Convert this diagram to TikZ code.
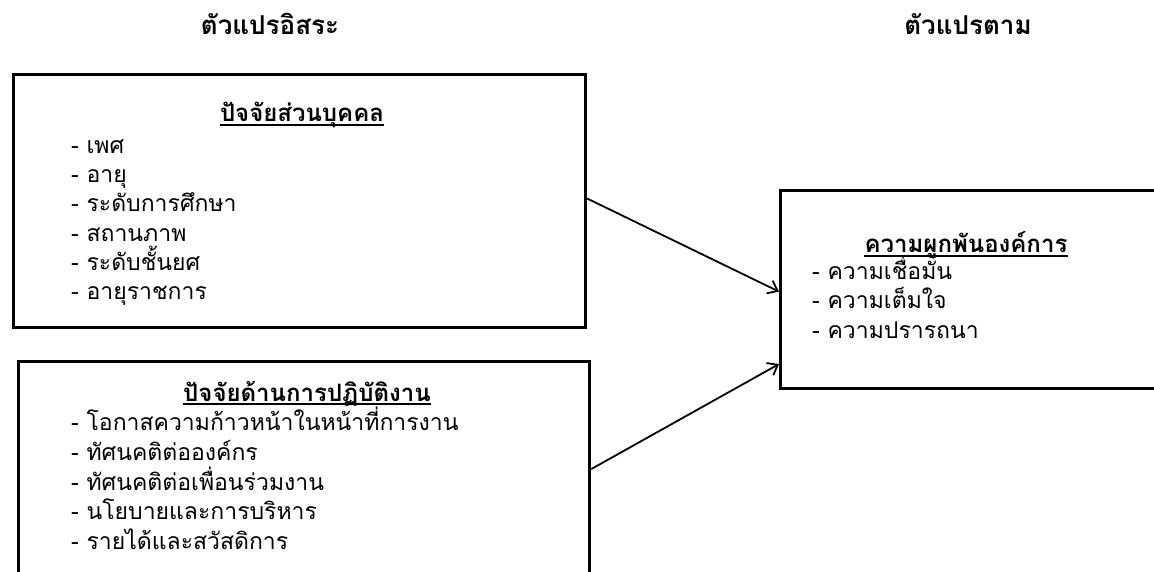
\documentclass[tikz,border=0pt]{standalone}
\usepackage{fontspec}
\newfontfamily\thai[Script=Thai]{Loma}
\usetikzlibrary{arrows.meta,calc}
\begin{document}
\begin{tikzpicture}[x=1pt,y=-1pt,
  box/.style={draw,line width=3.2pt,inner sep=0pt,anchor=north west},
  hdr/.style={font=\thai\fontsize{26}{30}\selectfont\bfseries,inner sep=0pt,anchor=base},
  ttl/.style={font=\thai\fontsize{24}{28}\selectfont\bfseries,inner sep=0pt,anchor=base},
  item/.style={font=\thai\fontsize{23}{27}\selectfont,inner sep=0pt,anchor=base west},
  uline/.style={line width=1.3pt},
  conn/.style={line width=1.8pt,-{Straight Barb[length=9pt,width=14pt,line width=1.8pt]}}]
\useasboundingbox (0,0) rectangle (1154,572);
% headers
\node[hdr] (h1) at (270,35) {ตัวแปรอิสระ};
\node[hdr] (h2) at (968,35) {ตัวแปรตาม};
% boxes
\node[box,minimum width=572pt,minimum height=253pt] (b1) at (12,73) {};
\node[box,minimum width=571pt,minimum height=215pt] (b2) at (17,360) {};
\node[box,minimum width=390pt,minimum height=198pt] (b3) at (779,189) {};
% box 1 text
\node[ttl] (t1) at (302,122) {ปัจจัยส่วนบุคคล};
\draw[uline] ([yshift=-3pt]t1.base west) -- ([yshift=-3pt]t1.base east);
\node[item] (i11) at (71,154) {- เพศ};
\node[item] (i12) at (71,183) {- อายุ};
\node[item] (i13) at (71,212) {- ระดับการศึกษา};
\node[item] (i14) at (71,241) {- สถานภาพ};
\node[item] (i15) at (71,270) {- ระดับชั้นยศ};
\node[item] (i16) at (71,299) {- อายุราชการ};
% box 2 text
\node[ttl] (t2) at (307,401) {ปัจจัยด้านการปฏิบัติงาน};
\draw[uline] ([yshift=-3pt]t2.base west) -- ([yshift=-3pt]t2.base east);
\node[item] (i21) at (71,430) {- โอกาสความก้าวหน้าในหน้าที่การงาน};
\node[item] (i22) at (71,460) {- ทัศนคติต่อองค์กร};
\node[item] (i23) at (71,490) {- ทัศนคติต่อเพื่อนร่วมงาน};
\node[item] (i24) at (71,519) {- นโยบายและการบริหาร};
\node[item] (i25) at (71,549) {- รายได้และสวัสดิการ};
% box 3 text
\node[ttl] (t3) at (966,253) {ความผูกพันองค์การ};
\draw[uline] ([yshift=-3pt]t3.base west) -- ([yshift=-3pt]t3.base east);
\node[item] (i31) at (812,279) {- ความเชื่อมั่น};
\node[item] (i32) at (812,308) {- ความเต็มใจ};
\node[item] (i33) at (812,338) {- ความปรารถนา};
% connectors
\coordinate (e1) at ($(b3.north west)!0.51!(b3.south west)$);
\coordinate (e2) at ($(b3.north west)!0.87!(b3.south west)$);
\coordinate (s1) at ($(b1.north east)!0.49!(b1.south east)$);
\coordinate (s2) at ($(b2.north east)!0.50!(b2.south east)$);
\draw[conn] (s1) -- (e1);
\draw[conn] (s2) -- (e2);
\end{tikzpicture}
\end{document}
